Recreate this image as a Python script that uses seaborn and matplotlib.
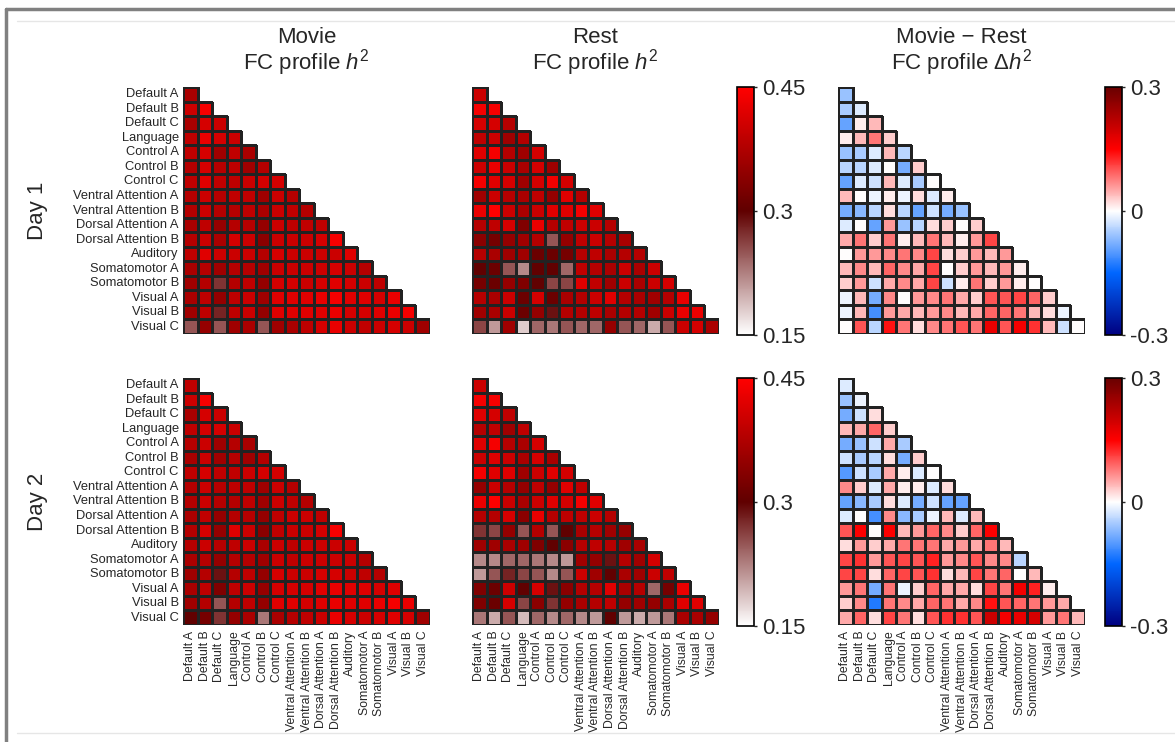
import numpy as np
import pandas as pd
import matplotlib.pyplot as plt
import matplotlib.lines as mlines
from matplotlib.colors import LinearSegmentedColormap, to_rgba
import seaborn as sns

networks = ['Default A', 'Default B', 'Default C', 'Language', 'Control A',
            'Control B', 'Control C', 'Ventral Attention A', 'Ventral Attention B',
            'Dorsal Attention A', 'Dorsal Attention B', 'Auditory', 'Somatomotor A',
            'Somatomotor B', 'Visual A', 'Visual B', 'Visual C']

# lower triangles, one list per row (row i holds columns 0..i)
day1_movie = [
    [0.37],
    [0.40, 0.44],
    [0.37, 0.41, 0.40],
    [0.39, 0.43, 0.41, 0.40],
    [0.39, 0.41, 0.36, 0.39, 0.37],
    [0.38, 0.41, 0.38, 0.39, 0.36, 0.38],
    [0.39, 0.42, 0.39, 0.39, 0.40, 0.41, 0.41],
    [0.38, 0.40, 0.38, 0.39, 0.39, 0.36, 0.40, 0.38],
    [0.38, 0.40, 0.38, 0.38, 0.39, 0.37, 0.40, 0.39, 0.38],
    [0.37, 0.39, 0.35, 0.38, 0.38, 0.35, 0.40, 0.39, 0.39, 0.39],
    [0.38, 0.40, 0.37, 0.41, 0.40, 0.34, 0.40, 0.40, 0.40, 0.41, 0.44],
    [0.39, 0.42, 0.40, 0.40, 0.40, 0.38, 0.41, 0.40, 0.40, 0.40, 0.40, 0.42],
    [0.37, 0.38, 0.36, 0.38, 0.38, 0.36, 0.40, 0.40, 0.40, 0.40, 0.41, 0.40, 0.38],
    [0.36, 0.38, 0.27, 0.38, 0.39, 0.35, 0.41, 0.41, 0.40, 0.41, 0.42, 0.41, 0.40, 0.39],
    [0.37, 0.39, 0.35, 0.39, 0.40, 0.36, 0.42, 0.42, 0.42, 0.43, 0.44, 0.42, 0.42, 0.41, 0.43],
    [0.36, 0.39, 0.28, 0.39, 0.40, 0.35, 0.42, 0.42, 0.42, 0.42, 0.43, 0.41, 0.41, 0.42, 0.43, 0.44],
    [0.25, 0.35, 0.25, 0.36, 0.37, 0.25, 0.36, 0.37, 0.39, 0.41, 0.43, 0.40, 0.39, 0.40, 0.41, 0.40, 0.36],
]

day1_rest = [
    [0.40],
    [0.44, 0.44],
    [0.41, 0.41, 0.38],
    [0.39, 0.40, 0.36, 0.38],
    [0.42, 0.44, 0.38, 0.36, 0.41],
    [0.40, 0.43, 0.40, 0.37, 0.41, 0.36],
    [0.44, 0.42, 0.41, 0.36, 0.41, 0.44, 0.41],
    [0.36, 0.40, 0.38, 0.37, 0.39, 0.35, 0.42, 0.38],
    [0.43, 0.45, 0.40, 0.37, 0.40, 0.42, 0.42, 0.44, 0.42],
    [0.38, 0.39, 0.41, 0.33, 0.43, 0.38, 0.39, 0.40, 0.40, 0.38],
    [0.34, 0.32, 0.35, 0.36, 0.38, 0.25, 0.35, 0.39, 0.40, 0.38, 0.37],
    [0.38, 0.37, 0.36, 0.36, 0.31, 0.31, 0.32, 0.38, 0.39, 0.37, 0.38, 0.38],
    [0.30, 0.31, 0.25, 0.22, 0.30, 0.30, 0.24, 0.39, 0.38, 0.37, 0.40, 0.37, 0.40],
    [0.32, 0.31, 0.35, 0.33, 0.30, 0.26, 0.26, 0.42, 0.39, 0.36, 0.40, 0.37, 0.40, 0.41],
    [0.38, 0.37, 0.40, 0.31, 0.41, 0.31, 0.37, 0.38, 0.40, 0.42, 0.38, 0.37, 0.36, 0.38, 0.43],
    [0.36, 0.37, 0.40, 0.31, 0.35, 0.29, 0.38, 0.38, 0.39, 0.37, 0.38, 0.38, 0.36, 0.40, 0.43, 0.43],
    [0.26, 0.21, 0.36, 0.18, 0.24, 0.23, 0.25, 0.24, 0.24, 0.35, 0.25, 0.24, 0.20, 0.25, 0.40, 0.41, 0.37],
]

day1_diff = [
    [-0.06],
    [-0.05, -0.02],
    [-0.09, 0.01, 0.04],
    [0.01, 0.04, 0.08, 0.03],
    [-0.06, -0.05, -0.02, 0.04, -0.04],
    [-0.04, -0.04, -0.02, 0.00, -0.08, 0.03],
    [-0.09, -0.02, -0.03, 0.04, -0.02, -0.05, 0.00],
    [0.04, 0.00, -0.01, 0.01, -0.01, 0.02, -0.02, 0.01],
    [-0.08, -0.07, -0.04, 0.02, -0.04, -0.09, -0.03, -0.08, -0.06],
    [-0.02, 0.00, -0.09, 0.06, -0.06, -0.04, 0.02, 0.03, 0.00, 0.03],
    [0.05, 0.08, 0.03, 0.08, 0.01, 0.04, 0.08, 0.04, 0.01, 0.06, 0.11],
    [0.00, 0.06, 0.06, 0.07, 0.08, 0.07, 0.11, 0.02, 0.03, 0.06, 0.04, 0.06],
    [0.04, 0.07, 0.04, 0.09, 0.07, 0.05, 0.11, 0.00, 0.03, 0.06, 0.04, 0.06, 0.01],
    [0.03, 0.06, -0.03, 0.05, 0.07, 0.05, 0.11, -0.03, 0.01, 0.08, 0.03, 0.06, 0.01, 0.00],
    [-0.01, 0.04, -0.08, 0.07, 0.00, 0.06, 0.07, 0.08, 0.05, 0.03, 0.10, 0.10, 0.11, 0.09, 0.03],
    [-0.01, 0.04, -0.11, 0.06, 0.05, 0.04, 0.06, 0.07, 0.04, 0.05, 0.09, 0.09, 0.08, 0.04, 0.02, -0.01],
    [0.00, 0.10, -0.04, 0.14, 0.08, 0.02, 0.07, 0.08, 0.10, 0.08, 0.17, 0.10, 0.16, 0.12, 0.04, -0.03, 0.00],
]

day2_movie = [
    [0.39],
    [0.40, 0.44],
    [0.37, 0.41, 0.40],
    [0.39, 0.41, 0.41, 0.40],
    [0.38, 0.40, 0.36, 0.38, 0.37],
    [0.37, 0.40, 0.36, 0.38, 0.36, 0.38],
    [0.39, 0.41, 0.39, 0.39, 0.40, 0.41, 0.41],
    [0.38, 0.40, 0.38, 0.39, 0.39, 0.36, 0.40, 0.38],
    [0.38, 0.40, 0.38, 0.38, 0.39, 0.36, 0.40, 0.39, 0.38],
    [0.37, 0.39, 0.35, 0.38, 0.38, 0.35, 0.39, 0.40, 0.40, 0.39],
    [0.38, 0.41, 0.35, 0.42, 0.40, 0.34, 0.39, 0.40, 0.40, 0.41, 0.44],
    [0.38, 0.40, 0.38, 0.39, 0.40, 0.37, 0.40, 0.39, 0.40, 0.40, 0.40, 0.40],
    [0.37, 0.38, 0.35, 0.38, 0.38, 0.36, 0.40, 0.39, 0.40, 0.40, 0.40, 0.40, 0.38],
    [0.36, 0.38, 0.29, 0.38, 0.39, 0.35, 0.41, 0.40, 0.40, 0.41, 0.41, 0.40, 0.39, 0.38],
    [0.37, 0.39, 0.33, 0.39, 0.40, 0.35, 0.41, 0.41, 0.41, 0.42, 0.43, 0.42, 0.42, 0.41, 0.42],
    [0.36, 0.38, 0.25, 0.38, 0.39, 0.35, 0.42, 0.42, 0.41, 0.42, 0.43, 0.42, 0.42, 0.43, 0.44, 0.43],
    [0.30, 0.32, 0.27, 0.35, 0.37, 0.23, 0.37, 0.38, 0.39, 0.40, 0.43, 0.41, 0.40, 0.41, 0.42, 0.41, 0.36],
]

day2_rest = [
    [0.40],
    [0.44, 0.44],
    [0.42, 0.41, 0.39],
    [0.38, 0.39, 0.36, 0.39],
    [0.42, 0.44, 0.38, 0.37, 0.41],
    [0.40, 0.42, 0.40, 0.37, 0.41, 0.37],
    [0.44, 0.42, 0.42, 0.36, 0.40, 0.42, 0.41],
    [0.35, 0.40, 0.38, 0.35, 0.39, 0.35, 0.42, 0.39],
    [0.43, 0.45, 0.40, 0.37, 0.40, 0.42, 0.41, 0.44, 0.42],
    [0.38, 0.38, 0.41, 0.34, 0.43, 0.38, 0.39, 0.39, 0.40, 0.38],
    [0.27, 0.26, 0.35, 0.25, 0.38, 0.25, 0.30, 0.37, 0.38, 0.36, 0.35],
    [0.36, 0.36, 0.37, 0.36, 0.33, 0.30, 0.34, 0.38, 0.39, 0.38, 0.36, 0.37],
    [0.22, 0.22, 0.24, 0.24, 0.23, 0.22, 0.21, 0.36, 0.35, 0.29, 0.38, 0.36, 0.41],
    [0.21, 0.25, 0.28, 0.26, 0.25, 0.22, 0.25, 0.40, 0.36, 0.30, 0.37, 0.36, 0.40, 0.39],
    [0.33, 0.31, 0.40, 0.30, 0.41, 0.29, 0.34, 0.38, 0.38, 0.42, 0.37, 0.38, 0.24, 0.32, 0.43],
    [0.33, 0.31, 0.41, 0.26, 0.34, 0.27, 0.35, 0.37, 0.38, 0.39, 0.35, 0.36, 0.35, 0.37, 0.42, 0.42],
    [0.23, 0.20, 0.25, 0.19, 0.24, 0.22, 0.24, 0.22, 0.21, 0.30, 0.21, 0.20, 0.21, 0.23, 0.37, 0.37, 0.35],
]

day2_diff = [
    [-0.02],
    [-0.06, -0.01],
    [-0.08, -0.03, 0.02],
    [0.04, 0.05, 0.09, 0.03],
    [-0.08, -0.06, -0.03, 0.05, -0.05],
    [-0.03, -0.05, -0.04, 0.02, -0.08, 0.03],
    [-0.10, -0.03, -0.05, 0.05, 0.01, -0.02, 0.00],
    [0.07, 0.03, -0.02, 0.05, 0.01, 0.01, -0.02, 0.02],
    [-0.09, -0.07, -0.05, 0.02, -0.02, -0.08, -0.03, -0.09, -0.09],
    [-0.02, 0.00, -0.11, 0.07, -0.07, -0.05, -0.01, 0.04, -0.02, 0.04],
    [0.10, 0.15, 0.00, 0.15, 0.04, 0.06, 0.09, 0.07, 0.03, 0.09, 0.15],
    [0.02, 0.06, 0.03, 0.05, 0.08, 0.08, 0.08, 0.05, 0.06, 0.05, 0.08, 0.04],
    [0.11, 0.12, 0.06, 0.10, 0.11, 0.10, 0.13, 0.06, 0.07, 0.10, 0.07, 0.07, -0.04],
    [0.11, 0.11, 0.02, 0.09, 0.11, 0.10, 0.12, 0.02, 0.04, 0.11, 0.08, 0.09, 0.00, 0.04],
    [0.06, 0.08, -0.08, 0.08, -0.01, 0.03, 0.09, 0.05, 0.05, 0.02, 0.11, 0.08, 0.16, 0.13, 0.01],
    [0.03, 0.07, -0.13, 0.08, 0.07, 0.05, 0.09, 0.08, 0.05, 0.07, 0.14, 0.10, 0.09, 0.08, 0.06, 0.05],
    [0.05, 0.09, 0.02, 0.11, 0.08, 0.02, 0.10, 0.12, 0.12, 0.10, 0.20, 0.16, 0.17, 0.19, 0.06, 0.08, 0.04],
]

title_top = ['Movie', 'Rest', 'Movie \u2212 Rest']
title_bottom = ['FC profile $h^2$', 'FC profile $h^2$', 'FC profile \u0394$h^2$']
day_labels = ['Day 1', 'Day 2']

sns.set_style('white')
plt.rcParams['font.family'] = ['Liberation Sans', 'DejaVu Sans']
plt.rcParams['mathtext.fontset'] = 'custom'
plt.rcParams['mathtext.rm'] = 'Liberation Sans'
plt.rcParams['mathtext.it'] = 'Liberation Sans:italic'

h2_cmap = LinearSegmentedColormap.from_list('h2', [(0, '#ffffff'), (0.5, '#600000'), (1, '#ff0000')])
diff_cmap = LinearSegmentedColormap.from_list(
    'diff', [(0, '#000080'), (0.25, '#0066ff'), (0.5, '#ffffff'), (0.75, '#ff0000'), (1, '#6a0000')])


def tri_frame(rows):
    n = len(networks)
    m = np.full((n, n), np.nan)
    for i, r in enumerate(rows):
        m[i, :len(r)] = r
    return pd.DataFrame(m, index=networks, columns=networks)


W, H = 1175, 742
fig = plt.figure(figsize=(W / 100, H / 100), dpi=100)


def px_axes(x, y, w, h):
    return fig.add_axes([x / W, 1 - (y + h) / H, w / W, h / H])


# screenshot-like frame
fig.add_artist(mlines.Line2D([6 / W, 1], [1 - 9 / H, 1 - 9 / H], color='#808080', lw=2.5))
fig.add_artist(mlines.Line2D([6 / W, 6 / W], [0, 1 - 9 / H], color='#808080', lw=2.5))
fig.add_artist(mlines.Line2D([17 / W, 1], [1 - 21 / H, 1 - 21 / H], color='#e6e6e6', lw=1))
fig.add_artist(mlines.Line2D([17 / W, 1], [1 - 733 / H, 1 - 733 / H], color='#e6e6e6', lw=1))

data = [[day1_movie, day1_rest, day1_diff], [day2_movie, day2_rest, day2_diff]]
col_x = [183, 472, 838]
row_y = [87, 378]
cbar_x = {1: 737, 2: 1105}
size = 247
edge = to_rgba('#222222')
ylab_fs = 9.3
xlab_fs = 8.8

for r in range(2):
    for c in range(3):
        df = tri_frame(data[r][c])
        mask = df.isna()
        ax = px_axes(col_x[c], row_y[r], size, size)
        is_diff = c == 2
        kw = dict(cmap=diff_cmap, vmin=-0.3, vmax=0.3) if is_diff else dict(cmap=h2_cmap, vmin=0.15, vmax=0.45)
        show_cbar = c > 0
        cax = px_axes(cbar_x[c], row_y[r], 17, size + 1) if show_cbar else None
        sns.heatmap(df, ax=ax, mask=mask, linewidths=0.8, linecolor='#222222',
                    cbar=show_cbar, cbar_ax=cax,
                    xticklabels=networks if r == 1 else False,
                    yticklabels=networks if c == 0 else False, **kw)
        # outline only the drawn (lower-triangle) cells
        mesh = ax.collections[0]
        ec = np.zeros((mask.size, 4))
        ec[~mask.values.ravel()] = edge
        mesh.set_edgecolors(ec)
        ax.tick_params(length=0, pad=3)
        if r == 1:
            ax.set_xticklabels(networks, rotation=90, fontsize=xlab_fs)
            ax.tick_params(axis='x', pad=4)
        if c == 0:
            ax.set_yticklabels(networks, rotation=0, fontsize=ylab_fs)
        if show_cbar:
            cb = mesh.colorbar
            if is_diff:
                cb.set_ticks([-0.3, 0, 0.3], labels=['-0.3', '0', '0.3'])
            else:
                cb.set_ticks([0.15, 0.3, 0.45], labels=['0.15', '0.3', '0.45'])
            cb.outline.set_linewidth(1.2)
            cb.outline.set_edgecolor('black')
            cb.ax.tick_params(labelsize=16, length=2, width=1, pad=4)

for c in range(3):
    xc = (col_x[c] + size / 2) / W
    fig.text(xc, 1 - 43 / H, title_top[c], ha='center', va='baseline', fontsize=16)
    fig.text(xc, 1 - 70 / H, title_bottom[c], ha='center', va='baseline', fontsize=16)

for r, lab in enumerate(day_labels):
    fig.text(38 / W, 1 - (row_y[r] + size / 2) / H, lab, rotation=90,
             ha='center', va='center', fontsize=16)

fig.savefig('out.png', dpi=100)
